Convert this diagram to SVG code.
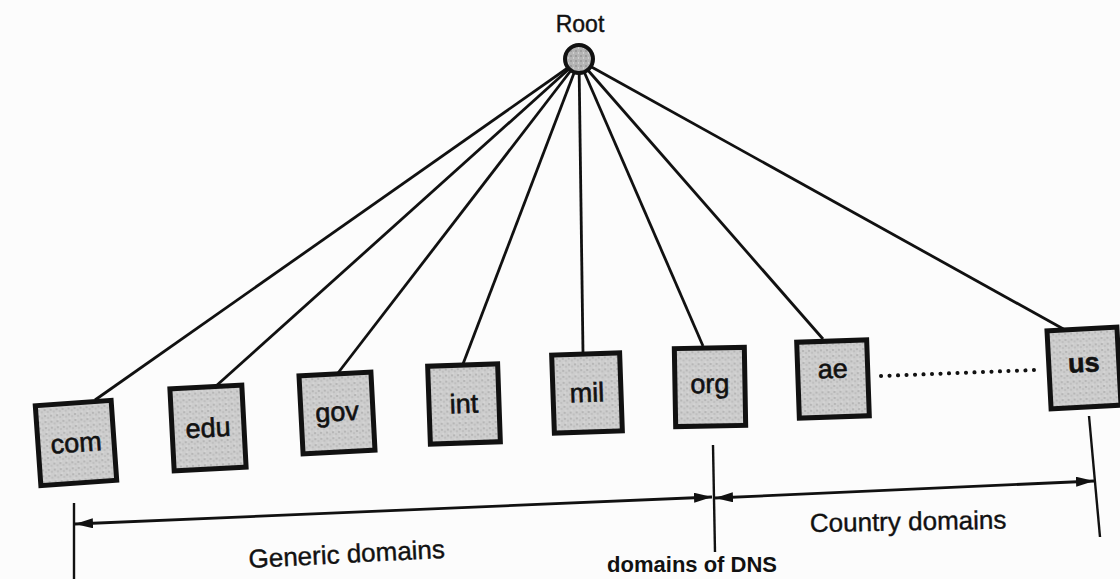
<svg xmlns="http://www.w3.org/2000/svg" width="1120" height="579" viewBox="0 0 1120 579">
  <defs>
    <pattern id="stipple" width="6" height="6" patternUnits="userSpaceOnUse">
      <rect width="6" height="6" fill="#cdcdcd"/>
      <circle cx="1" cy="1" r="0.8" fill="#9a9a9a"/>
      <circle cx="4" cy="3" r="0.7" fill="#a8a8a8"/>
      <circle cx="2" cy="5" r="0.6" fill="#eeeeee"/>
    </pattern>
    <pattern id="stippleDark" width="5" height="5" patternUnits="userSpaceOnUse">
      <rect width="5" height="5" fill="#b4b4b4"/>
      <circle cx="1" cy="1" r="0.8" fill="#808080"/>
      <circle cx="3.5" cy="3" r="0.7" fill="#e0e0e0"/>
    </pattern>
    <marker id="arrow" viewBox="0 0 18 10" refX="18" refY="5" markerWidth="18" markerHeight="10" markerUnits="userSpaceOnUse" orient="auto-start-reverse">
      <path d="M0,0 L18,5 L0,10 Z" fill="#111"/>
    </marker>
    <style>
      .edge { stroke: #111; stroke-width: 2.8; fill: none; }
      .tick { stroke: #111; stroke-width: 2.4; fill: none; }
      .dim { stroke: #111; stroke-width: 2.8; fill: none; marker-start: url(#arrow); marker-end: url(#arrow); }
      .dots { stroke: #111; stroke-width: 4; stroke-linecap: round; stroke-dasharray: 0.1 8.4; fill: none; }
      .box { fill: url(#stipple); stroke: #111; stroke-width: 5; }
      .lbl { font-family: "Liberation Sans", Arial, sans-serif; font-size: 27px; fill: #111; stroke: #111; stroke-width: 0.6; text-anchor: middle; }
      .note { font-family: "Liberation Sans", Arial, sans-serif; font-size: 26px; fill: #111; stroke: #111; stroke-width: 0.4; }
      .cap { font-family: "Liberation Sans", Arial, sans-serif; font-size: 22px; font-weight: bold; fill: #111; text-anchor: end; }
    </style>
  </defs>

  <rect width="1120" height="579" fill="#fcfcfc"/>

  <!-- tree edges from the root to each top-level domain -->
  <g id="connectors">
    <line class="edge" x1="579" y1="60" x2="95" y2="400"/>
    <line class="edge" x1="579" y1="60" x2="216" y2="386"/>
    <line class="edge" x1="579" y1="60" x2="338" y2="373"/>
    <line class="edge" x1="579" y1="60" x2="463" y2="364"/>
    <line class="edge" x1="579" y1="60" x2="583" y2="353"/>
    <line class="edge" x1="579" y1="60" x2="703" y2="346"/>
    <line class="edge" x1="579" y1="60" x2="823" y2="339"/>
    <line class="edge" x1="579" y1="60" x2="1067" y2="331"/>
    <line class="dots" x1="881" y1="376" x2="1035" y2="370"/>
  </g>

  <!-- extent markers for the two domain families -->
  <g id="extents">
    <line class="tick" x1="74" y1="503" x2="74" y2="579"/>
    <line class="tick" x1="713" y1="445" x2="715" y2="552"/>
    <line class="tick" x1="1089" y1="416" x2="1100" y2="537"/>
    <line class="dim" x1="75" y1="524" x2="712" y2="497"/>
    <line class="dim" x1="715" y1="498" x2="1094" y2="481"/>
    <text class="note" transform="translate(249,568) rotate(-3)">Generic domains</text>
    <text class="note" transform="translate(810,532) rotate(-1)">Country domains</text>
  </g>

  <g id="root">
    <text class="lbl" x="580" y="32" style="font-size:23px;stroke-width:0.4">Root</text>
    <circle cx="579" cy="59" r="14" fill="url(#stippleDark)" stroke="#111" stroke-width="4"/>
  </g>

  <g id="node-com" transform="translate(76,443) rotate(-4)">
    <rect class="box" x="-38" y="-40" width="76" height="80"/>
    <text class="lbl" x="0" y="9">com</text>
  </g>
  <g id="node-edu" transform="translate(208,428) rotate(-3)">
    <rect class="box" x="-36" y="-41" width="72" height="82"/>
    <text class="lbl" x="0" y="9">edu</text>
  </g>
  <g id="node-gov" transform="translate(337,413) rotate(-3)">
    <rect class="box" x="-36" y="-39" width="72" height="78"/>
    <text class="lbl" x="0" y="8">gov</text>
  </g>
  <g id="node-int" transform="translate(464,404) rotate(-2)">
    <rect class="box" x="-35" y="-39" width="70" height="78"/>
    <text class="lbl" x="0" y="9">int</text>
  </g>
  <g id="node-mil" transform="translate(587,393) rotate(-2)">
    <rect class="box" x="-34" y="-39" width="68" height="78"/>
    <text class="lbl" x="0" y="9">mil</text>
  </g>
  <g id="node-org" transform="translate(710,387) rotate(-1)">
    <rect class="box" x="-35" y="-39" width="70" height="78"/>
    <text class="lbl" x="0" y="6">org</text>
  </g>
  <g id="node-ae" transform="translate(833,379) rotate(-2)">
    <rect class="box" x="-35" y="-38" width="70" height="76"/>
    <text class="lbl" x="0" y="-1">ae</text>
  </g>
  <g id="node-us" transform="translate(1084,368) rotate(-3)">
    <rect class="box" x="-35" y="-39" width="70" height="78"/>
    <text class="lbl" x="0" y="4" style="font-weight:bold">us</text>
  </g>

  <text class="cap" x="777" y="572">domains of DNS</text>
</svg>
